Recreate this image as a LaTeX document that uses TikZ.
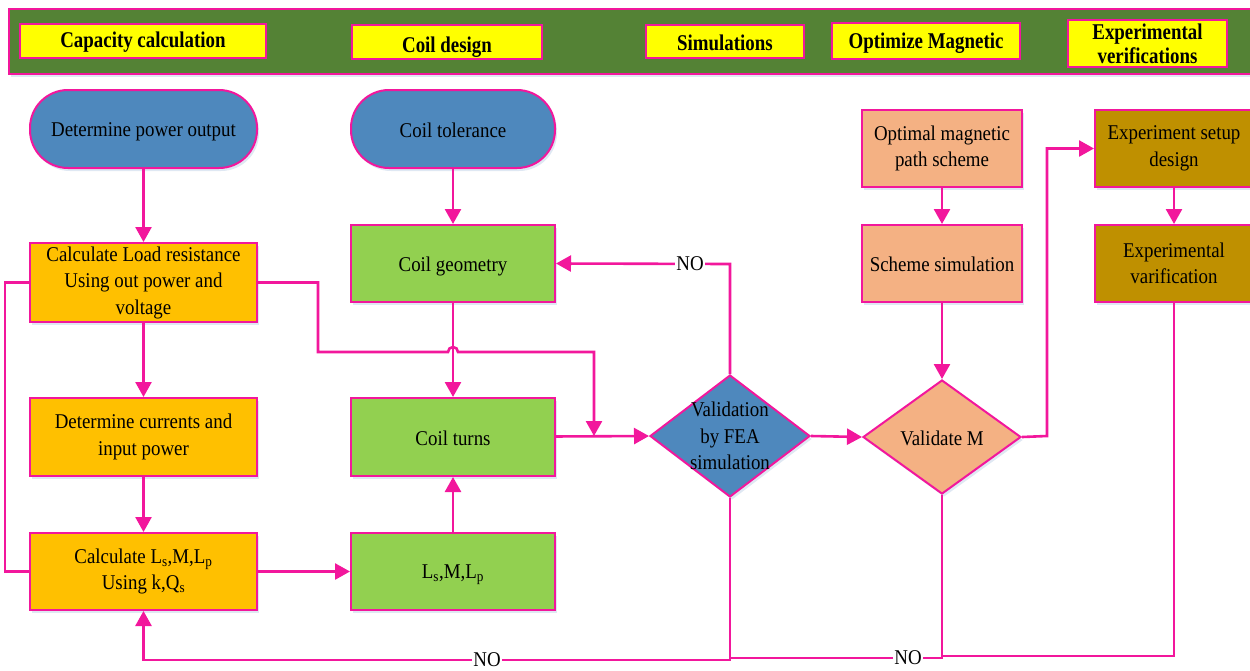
\documentclass[tikz,border=0pt]{standalone}
\usepackage{fontspec}
\setmainfont{Liberation Serif}[FakeStretch=0.9]
\newfontfamily\headfont{Liberation Serif}[FakeStretch=0.84]
\usetikzlibrary{arrows.meta,shapes.geometric,shadows}

\definecolor{pinkline}{HTML}{F2179C}
\definecolor{bandgreen}{HTML}{548235}
\definecolor{headyellow}{HTML}{FFFF00}
\definecolor{stepblue}{HTML}{4E88BD}
\definecolor{steporange}{HTML}{FFC000}
\definecolor{stepgreen}{HTML}{92D050}
\definecolor{steppeach}{HTML}{F4B183}
\definecolor{stepgold}{HTML}{BF9000}
\definecolor{shadowc}{HTML}{DFE8F3}

% lower a single line of text without changing its box
\newcommand{\lowered}[2]{\raisebox{-#1}[\height][\depth]{#2}}

\tikzset{
  every node/.style={font=\fontsize{21}{26.5}\selectfont, text=black},
  softshadow/.style={drop shadow={shadow xshift=2pt, shadow yshift=-3pt, fill=shadowc, opacity=1}},
  headlabel/.style={draw=pinkline, fill=headyellow, line width=2pt, align=center,
    inner sep=0pt, font=\headfont\bfseries\fontsize{22.5}{24}\selectfont},
  box/.style={rectangle, draw=pinkline, line width=2pt, align=center, inner sep=2pt, softshadow},
  terminal/.style={box, rounded corners=38pt},
  decision/.style={diamond, draw=pinkline, line width=2pt, inner sep=0pt, softshadow},
  conn/.style={draw=pinkline, line width=2.6pt},
  arr/.style={conn, -{Triangle[length=15pt, width=16pt]}},
  nolabel/.style={fill=white, inner sep=1pt},
}

\begin{document}
\begin{tikzpicture}[x=1pt, y=-1pt]
\useasboundingbox (0,0) rectangle (1250,670);

% phase band across the top
\node[draw=pinkline, fill=bandgreen, line width=2pt, minimum width=1250pt, minimum height=65pt,
      anchor=north west, inner sep=0pt, softshadow] (band) at (8,8) {};
\node[headlabel, minimum width=246pt, minimum height=34pt] (h1) at (143,41) {\lowered{1pt}{Capacity calculation}};
\node[headlabel, minimum width=190pt, minimum height=34pt] (h2) at (447,42) {\lowered{5pt}{Coil design}};
\node[headlabel, minimum width=158pt, minimum height=33pt] (h3) at (725,41.5) {\lowered{1pt}{Simulations}};
\node[headlabel, minimum width=188pt, minimum height=36pt] (h4) at (926,41) {\lowered{2pt}{Optimize Magnetic}};
\node[headlabel, minimum width=159pt, minimum height=47pt] (h5) at (1147.5,43.5) {Experimental\\verifications};

% capacity calculation column
\node[terminal, fill=stepblue, minimum width=227pt, minimum height=78pt] (pow) at (143.5,129) {\lowered{3pt}{Determine power output}};
\node[box, fill=steporange, minimum width=227pt, minimum height=79pt] (load) at (143.5,282.5) {Calculate Load resistance\\Using out power and\\voltage};
\node[box, fill=steporange, minimum width=227pt, minimum height=78pt] (cur) at (143.5,437) {Determine currents and\\input power};
\node[box, fill=steporange, minimum width=227pt, minimum height=77pt] (calc) at (143.5,571.5) {Calculate L\textsubscript{s},M,L\textsubscript{p}\\Using k,Q\textsubscript{s}};

% coil design column
\node[terminal, fill=stepblue, minimum width=204pt, minimum height=78pt] (tol) at (453,129) {\lowered{1pt}{Coil tolerance}};
\node[box, fill=stepgreen, minimum width=204pt, minimum height=77pt] (geo) at (453,263.5) {\lowered{3pt}{Coil geometry}};
\node[box, fill=stepgreen, minimum width=204pt, minimum height=78pt] (turns) at (453,437) {\lowered{1pt}{Coil turns}};
\node[box, fill=stepgreen, minimum width=204pt, minimum height=77pt] (lsm) at (453,571.5) {\lowered{3pt}{L\textsubscript{s},M,L\textsubscript{p}}};

% simulation check
\node[decision, fill=stepblue, minimum width=160pt, minimum height=122pt] (fea) at (730,436) {};
\node[align=center] (featext) at (fea.center) {Validation\\by FEA\\simulation};

% magnetic path optimisation
\node[box, fill=steppeach, minimum width=160pt, minimum height=77pt] (opt) at (942,148.5) {Optimal magnetic\\path scheme};
\node[box, fill=steppeach, minimum width=160pt, minimum height=77pt] (sch) at (942,263.5) {\lowered{1pt}{Scheme simulation}};
\node[decision, fill=steppeach, minimum width=158pt, minimum height=114pt] (valm) at (942,437) {};
\node (valmtext) at (valm.center) {\lowered{1pt}{Validate M}};

% experimental verification
\node[box, fill=stepgold, minimum width=158pt, minimum height=77pt, anchor=west] (exp) at (1094,148.5) {Experiment setup\\design};
\node[box, fill=stepgold, minimum width=158pt, minimum height=77pt, anchor=west] (ver) at (1094,263.5) {Experimental\\varification};

% junction and bend points
\coordinate (j1) at (594,436);
\coordinate (b1) at (730,264);
\coordinate (b2) at (730,660);
\coordinate (b3) at (143.5,660);
\coordinate (b4) at (942,658);
\coordinate (b5) at (730,658);
\coordinate (b6) at (1174,656);
\coordinate (b7) at (942,656);
\coordinate (b8) at (1047,436);
\coordinate (b9) at (1047,148.5);

% connectors
\draw[arr] (pow) -- (load);
\draw[arr] (load) -- (cur);
\draw[arr] (cur) -- (calc);
\draw[conn] (load.west) -- (5,282.5) -- (5,571.5) -- (calc.west);
\draw[arr] (load.east) -- (318,282.5) -- (318,352) -- (448,352)
  arc[start angle=180, end angle=0, radius=5pt] -- (594,352) -- (j1);
\draw[arr] (tol) -- (geo);
\draw[arr] (geo) -- (turns);
\draw[arr] (lsm) -- (turns);
\draw[arr] (calc) -- (lsm);
\draw[arr] (turns) -- (fea.west);
\draw[arr] (fea.north) -- (b1) -- (geo.east);
\draw[arr] (fea.south) -- (b2) -- (b3) -- (calc.south);
\draw[arr] (fea.east) -- (valm.west);
\draw[arr] (opt) -- (sch);
\draw[arr] (sch) -- (valm.north);
\draw[arr] (valm.east) -- (b8) -- (b9) -- (exp.west);
\draw[arr] (exp) -- (ver);
\draw[conn] (valm.south) -- (b4) -- (b5);
\draw[conn] (ver.south) -- (b6) -- (b7);

% loop-back labels
\node[nolabel] (no1) at (690,264) {NO};
\node[nolabel] (no2) at (487,660) {NO};
\node[nolabel] (no3) at (908,658) {NO};
\end{tikzpicture}
\end{document}
